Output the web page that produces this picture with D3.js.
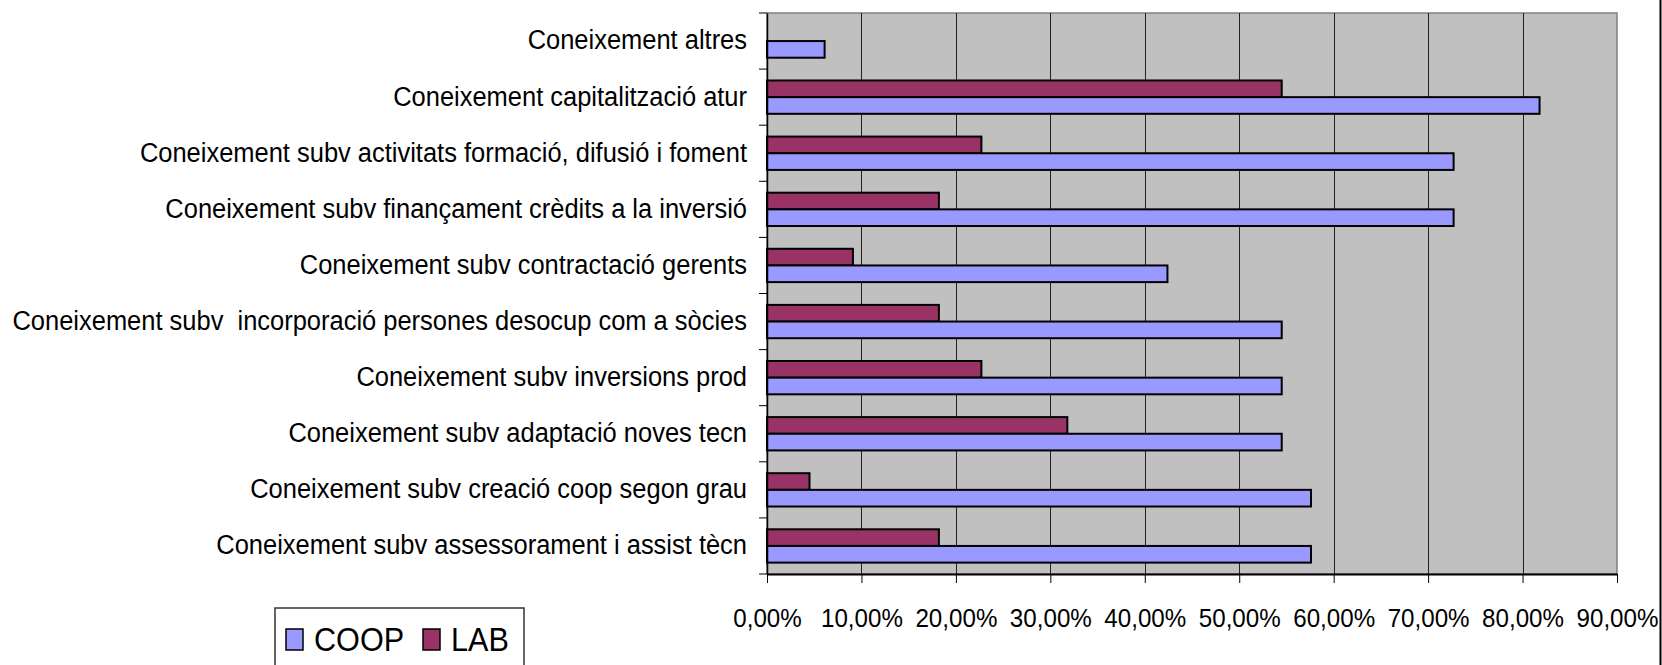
<!DOCTYPE html>
<html>
<head>
<meta charset="utf-8">
<script src="https://cdn.jsdelivr.net/npm/d3@7.9.0/dist/d3.min.js"></script>
<style>
  html, body { margin: 0; padding: 0; background: #fff; }
  svg { display: block; }
  text { font-family: "Liberation Sans", Arial, sans-serif; fill: #000; white-space: pre; }
</style>
</head>
<body>
<svg id="chart" width="1662" height="665"></svg>
<script>
// categories, top to bottom
const categories = [
  'Coneixement altres',
  'Coneixement capitalització atur',
  'Coneixement subv activitats formació, difusió i foment',
  'Coneixement subv finançament crèdits a la inversió',
  'Coneixement subv contractació gerents',
  'Coneixement subv  incorporació persones desocup com a sòcies',
  'Coneixement subv inversions prod',
  'Coneixement subv adaptació noves tecn',
  'Coneixement subv creació coop segon grau',
  'Coneixement subv assessorament i assist tècn'
];

// values in %
const coopValues = [6.1, 81.8, 72.7, 72.7, 42.4, 54.5, 54.5, 54.5, 57.6, 57.6];
const labValues = [null, 54.5, 22.7, 18.2, 9.1, 18.2, 22.7, 31.8, 4.5, 18.2];

const xTicks = [0, 10, 20, 30, 40, 50, 60, 70, 80, 90];
const seriesNames = ['COOP', 'LAB'];
const seriesColors = { COOP: '#9999FF', LAB: '#993366' };

const svg = d3.select('#chart');

const plot = { left: 767, right: 1617, top: 13, bottom: 574 };

// the original type is a tall, condensed sans: squeeze it horizontally
const narrow = 0.91;

let x = d3.scaleLinear().domain([0, 90]).range([plot.left, plot.right]);

let y = d3.scaleBand()
  .domain(categories)
  .range([plot.top, plot.bottom])
  .paddingInner(0.406)
  .paddingOuter(0.203);

// LAB sits above COOP inside each group
let ySub = d3.scaleBand().domain(['LAB', 'COOP']).range([0, y.bandwidth()]);

// plot background
svg.append('rect')
  .attr('x', plot.left)
  .attr('y', plot.top)
  .attr('width', plot.right - plot.left)
  .attr('height', plot.bottom - plot.top)
  .attr('fill', '#C0C0C0')
  .attr('stroke', '#808080')
  .attr('stroke-width', 1.5);

// vertical gridlines
svg.append('g')
  .selectAll('line')
  .data(xTicks.slice(1, -1))
  .join('line')
  .attr('x1', (d) => Math.round(x(d)) + 0.5)
  .attr('x2', (d) => Math.round(x(d)) + 0.5)
  .attr('y1', plot.top)
  .attr('y2', plot.bottom)
  .attr('stroke', '#222')
  .attr('stroke-width', 1);

// bars
const rows = categories.map((c, i) => ({ cat: c, COOP: coopValues[i], LAB: labValues[i] }));

['LAB', 'COOP'].forEach((s) => {
  svg.append('g')
    .selectAll('rect')
    .data(rows.filter((d) => d[s] != null))
    .join('rect')
    .attr('x', x(0))
    .attr('y', (d) => y(d.cat) + ySub(s))
    .attr('width', (d) => x(d[s]) - x(0))
    .attr('height', ySub.bandwidth())
    .attr('fill', seriesColors[s])
    .attr('stroke', '#000')
    .attr('stroke-width', 2);
});

// x axis
const fmt = (d) => d3.format('.2f')(d).replace('.', ',') + '%';
const xAxis = svg.append('g')
  .attr('transform', `translate(0,${plot.bottom})`)
  .call(d3.axisBottom(x).tickValues(xTicks).tickFormat(fmt).tickSize(9).tickSizeOuter(0));
xAxis.select('.domain').attr('stroke', '#000').attr('stroke-width', 2);
xAxis.selectAll('.tick line').attr('stroke', '#000');
xAxis.selectAll('text')
  .attr('dy', 0)
  .attr('y', 53)
  .attr('transform', 'scale(0.93,1)')
  .style('font-size', '26px');

// y axis: labels at band centres, ticks at band boundaries
const yAxis = svg.append('g')
  .attr('transform', `translate(${plot.left},0)`)
  .call(d3.axisLeft(y).tickSize(0));
yAxis.select('.domain').attr('stroke', '#000').attr('stroke-width', 1.5);
yAxis.selectAll('text')
  .attr('x', -20 / narrow)
  .attr('dy', '0.3em')
  .attr('transform', `scale(${narrow},1)`)
  .style('font-size', '28px');

const step = y.step();
svg.append('g')
  .selectAll('line')
  .data(d3.range(categories.length + 1))
  .join('line')
  .attr('x1', plot.left - 8)
  .attr('x2', plot.left)
  .attr('y1', (i) => plot.top + i * step)
  .attr('y2', (i) => plot.top + i * step)
  .attr('stroke', '#000');

// right border of the chart object
svg.append('line')
  .attr('x1', 1660.5).attr('x2', 1660.5)
  .attr('y1', 0).attr('y2', 665)
  .attr('stroke', '#000')
  .attr('stroke-width', 2);

// legend
const legend = svg.append('g').attr('transform', 'translate(275,608)');
legend.append('rect')
  .attr('width', 249)
  .attr('height', 80)
  .attr('fill', '#fff')
  .attr('stroke', '#333')
  .attr('stroke-width', 1.5);

const legendX = { COOP: 11, LAB: 148 };
seriesNames.forEach((s) => {
  const g = legend.append('g').attr('transform', `translate(${legendX[s]},0)`);
  g.append('rect')
    .attr('x', 0)
    .attr('y', 21)
    .attr('width', 17)
    .attr('height', 21)
    .attr('fill', seriesColors[s])
    .attr('stroke', '#000')
    .attr('stroke-width', 1.5);
  g.append('text')
    .attr('transform', 'translate(28,43) scale(0.9,1)')
    .style('font-size', '34px')
    .text(s);
});
</script>
</body>
</html>
